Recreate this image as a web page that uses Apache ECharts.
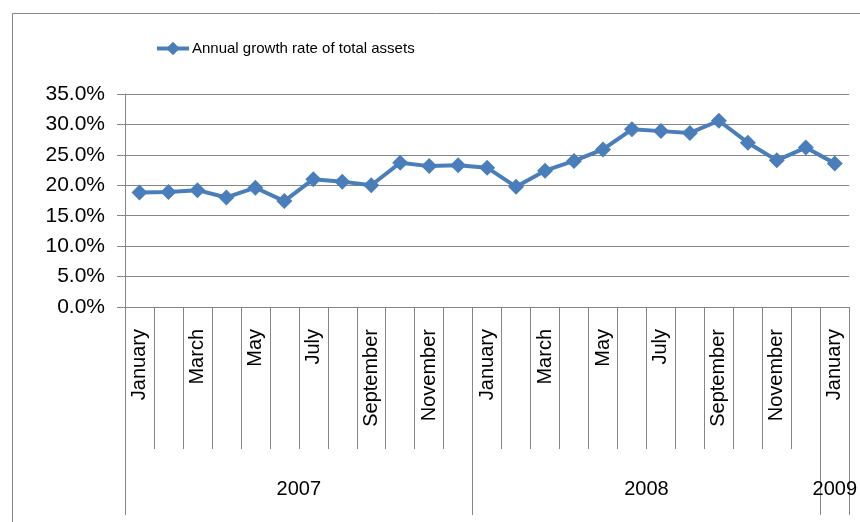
<!DOCTYPE html>
<html>
<head>
<meta charset="utf-8">
<script src="https://cdn.jsdelivr.net/npm/echarts@6/dist/echarts.min.js"></script>
<style>
html,body{margin:0;padding:0;background:#fff;}
#c{width:860px;height:522px;}
</style>
</head>
<body>
<div id="c"></div>
<script>
// ---- data ----
var months = ['January','February','March','April','May','June','July','August','September','October','November','December',
              'January','February','March','April','May','June','July','August','September','October','November','December',
              'January'];
var growth = [18.8, 18.9, 19.2, 18.0, 19.6, 17.4, 21.0, 20.6, 20.0, 23.7, 23.15, 23.3,
              22.9, 19.75, 22.4, 24.0, 25.9, 29.2, 28.9, 28.6, 30.6, 27.0, 24.1, 26.2,
              23.6];
var years = ['2007', '2008', '2009'];
var yearSpans = [12, 12, 1];
var seriesName = 'Annual growth rate of total assets';
var yTicks = [0, 5, 10, 15, 20, 25, 30, 35];

// ---- derived year-axis positions ----
var yearBounds = [0], yearCenters = [], acc = 0;
for (var i = 0; i < yearSpans.length; i++) {
  yearCenters.push(acc + yearSpans[i] / 2);
  acc += yearSpans[i];
  yearBounds.push(acc);
}
var centerToYear = {};
yearCenters.forEach(function (c, i) { centerToYear[c] = years[i]; });

var gray = '#868686';
var blue = '#4A7EBB';
var font = '"Liberation Sans", Arial, sans-serif';
var chart = echarts.init(document.getElementById('c'), null, {renderer: 'canvas'});
chart.setOption({
  animation: false,
  backgroundColor: '#fff',
  graphic: [{
    type: 'rect', left: 10, top: 11, shape: {x: 0, y: 0, width: 900, height: 600},
    style: {fill: 'none', stroke: gray, lineWidth: 1}, silent: true, z: -1
  }],
  legend: {
    left: 150, top: 36,
    itemWidth: 32, itemHeight: 17, itemGap: 10,
    lineStyle: {width: 4, color: blue},
    itemStyle: {color: blue},
    textStyle: {fontFamily: font, fontSize: 15, color: '#000', padding: [0, 0, 0, -2]},
    data: [seriesName]
  },
  grid: {left: 125, right: 9, top: 94, bottom: 215, containLabel: false},
  xAxis: [{
    type: 'category',
    data: months,
    boundaryGap: true,
    position: 'bottom',
    axisLine: {show: true, lineStyle: {color: gray, width: 1}},
    axisTick: {show: true, interval: 0, length: 142, lineStyle: {color: gray, width: 1}},
    axisLabel: {interval: 1, rotate: 90, margin: 22, color: '#000', fontFamily: font, fontSize: 20},
    splitLine: {show: false}
  }, {
    type: 'value',
    min: 0, max: months.length,
    position: 'bottom',
    offset: 142,
    axisLine: {show: false},
    axisTick: {show: true, customValues: yearBounds, length: 66, inside: false, lineStyle: {color: gray, width: 1}},
    axisLabel: {show: true, customValues: yearCenters, margin: 30, color: '#000', fontFamily: font, fontSize: 20,
                formatter: function (v) { return centerToYear[v] || ''; }},
    splitLine: {show: false}
  }],
  yAxis: {
    type: 'value',
    min: yTicks[0], max: yTicks[yTicks.length - 1], interval: yTicks[1] - yTicks[0],
    axisLine: {show: true, lineStyle: {color: gray, width: 1}},
    axisTick: {show: true, length: 8, lineStyle: {color: gray, width: 1}},
    axisLabel: {margin: 20, color: '#000', fontFamily: font, fontSize: 21,
                formatter: function (v) { return v.toFixed(1) + '%'; }},
    splitLine: {show: true, lineStyle: {color: gray, width: 1.2}}
  },
  series: [{
    name: seriesName,
    type: 'line',
    xAxisIndex: 0,
    data: growth,
    symbol: 'diamond',
    symbolSize: 16,
    lineStyle: {color: blue, width: 4},
    itemStyle: {color: blue, borderWidth: 0},
    emphasis: {disabled: true}
  }]
});
</script>
</body>
</html>
